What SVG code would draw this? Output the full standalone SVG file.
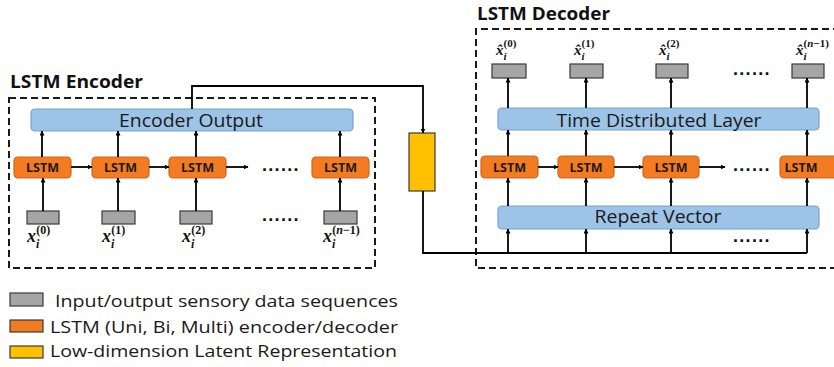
<svg xmlns="http://www.w3.org/2000/svg" width="834" height="367" viewBox="0 0 834 367">
<defs>
<marker id="ah" viewBox="0 0 10 10" refX="9" refY="5" markerWidth="5" markerHeight="5" orient="auto" markerUnits="userSpaceOnUse">
<path d="M0,0 L10,5 L0,10 z" fill="#000"/>
</marker>
<style>
.dash{fill:none;stroke:#1a1a1a;stroke-width:2;stroke-dasharray:7 4}
.title{font-family:"Open Sans","Liberation Sans",sans-serif;font-weight:bold;font-size:17px;fill:#111}
.blue{fill:#9DC3E6;stroke:#6FA3D6;stroke-width:1.2}
.btxt{font-family:"Open Sans","Liberation Sans",sans-serif;font-size:18px;fill:#1a1a1a;text-anchor:middle}
.lstm{fill:#F37B21;stroke:#D0661A;stroke-width:1.2}
.ltxt{font-family:"Open Sans","Liberation Sans",sans-serif;font-weight:bold;font-size:12.5px;fill:#1a1a1a;text-anchor:middle}
.gray{fill:#A6A6A6;stroke:#3a3a3a;stroke-width:1.2}
.yel{fill:#FFC000;stroke:#3a3a3a;stroke-width:1.2}
.ar{fill:none;stroke:#000;stroke-width:1.8;marker-end:url(#ah)}
.ln{fill:none;stroke:#000;stroke-width:1.8}
.dots{font-family:"Liberation Sans",sans-serif;font-weight:bold;font-size:18px;letter-spacing:1.3px;fill:#111}
.mx{font-family:"Liberation Serif",serif;font-weight:bold;font-style:italic;fill:#111}
.ms{font-family:"Liberation Serif",serif;font-weight:bold;fill:#111}
.leg{font-family:"Open Sans","Liberation Sans",sans-serif;font-size:17px;fill:#1a1a1a}
</style>
</defs>

<!-- Encoder -->
<g id="encoder">
<text class="title" x="10" y="88" textLength="133" lengthAdjust="spacingAndGlyphs">LSTM Encoder</text>
<rect class="dash" x="9" y="98" width="366" height="170"/>
</g>
<g id="encoder-output">
<rect class="blue" x="31" y="109" width="322" height="22" rx="4"/>
<text class="btxt" x="191" y="127" textLength="144" lengthAdjust="spacingAndGlyphs">Encoder Output</text>
</g>
<g id="enc-lstm-0"><rect class="lstm" x="14" y="157" width="57" height="21" rx="4"/><text class="ltxt" x="42.5" y="172">LSTM</text></g>
<g id="enc-lstm-1"><rect class="lstm" x="92" y="157" width="57" height="21" rx="4"/><text class="ltxt" x="120.5" y="172">LSTM</text></g>
<g id="enc-lstm-2"><rect class="lstm" x="169" y="157" width="57" height="21" rx="4"/><text class="ltxt" x="197.5" y="172">LSTM</text></g>
<g id="enc-lstm-3"><rect class="lstm" x="312" y="157" width="57" height="21" rx="4"/><text class="ltxt" x="340.5" y="172">LSTM</text></g>
<text class="dots" x="262" y="171">......</text>

<g id="enc-in-0"><rect class="gray" x="27" y="211" width="32" height="13"/>
<text x="27" y="242"><tspan class="mx" font-size="18">x</tspan><tspan class="mx" font-size="12" dy="6">i</tspan><tspan class="ms" font-size="12" dx="-3" dy="-14">(0)</tspan></text></g>
<g id="enc-in-1"><rect class="gray" x="102" y="211" width="33" height="13"/>
<text x="102" y="242"><tspan class="mx" font-size="18">x</tspan><tspan class="mx" font-size="12" dy="6">i</tspan><tspan class="ms" font-size="12" dx="-3" dy="-14">(1)</tspan></text></g>
<g id="enc-in-2"><rect class="gray" x="180" y="211" width="32" height="13"/>
<text x="182" y="242"><tspan class="mx" font-size="18">x</tspan><tspan class="mx" font-size="12" dy="6">i</tspan><tspan class="ms" font-size="12" dx="-3" dy="-14">(2)</tspan></text></g>
<g id="enc-in-3"><rect class="gray" x="324" y="211" width="33" height="13"/>
<text x="323" y="242"><tspan class="mx" font-size="18">x</tspan><tspan class="mx" font-size="12" dy="6">i</tspan><tspan class="ms" font-size="12" dx="-3" dy="-14">(</tspan><tspan class="mx" font-size="12">n</tspan><tspan class="ms" font-size="12">−1)</tspan></text></g>
<text class="dots" x="262" y="221">......</text>

<!-- Latent -->
<g id="latent"><rect class="yel" x="409" y="133" width="26" height="58"/></g>

<!-- Decoder -->
<g id="decoder">
<text class="title" x="477" y="20" textLength="133" lengthAdjust="spacingAndGlyphs">LSTM Decoder</text>
<path class="dash" d="M840,29 H476 V268 H840"/>
</g>
<g id="time-distributed">
<rect class="blue" x="498" y="108" width="321" height="22" rx="4"/>
<text class="btxt" x="659" y="127" textLength="205" lengthAdjust="spacingAndGlyphs">Time Distributed Layer</text>
</g>
<g id="repeat-vector">
<rect class="blue" x="498" y="206" width="321" height="23" rx="4"/>
<text class="btxt" x="658" y="223" textLength="127" lengthAdjust="spacingAndGlyphs">Repeat Vector</text>
</g>
<g id="dec-lstm-0"><rect class="lstm" x="481" y="156" width="57" height="22" rx="4"/><text class="ltxt" x="509.5" y="171.5">LSTM</text></g>
<g id="dec-lstm-1"><rect class="lstm" x="558" y="156" width="56" height="22" rx="4"/><text class="ltxt" x="586" y="171.5">LSTM</text></g>
<g id="dec-lstm-2"><rect class="lstm" x="643" y="156" width="56" height="22" rx="4"/><text class="ltxt" x="671" y="171.5">LSTM</text></g>
<g id="dec-lstm-3"><rect class="lstm" x="780" y="156" width="60" height="22" rx="4"/><text class="ltxt" x="801" y="171.5">LSTM</text></g>
<text class="dots" x="733" y="171">......</text>

<g id="dec-out-0"><rect class="gray" x="492" y="64" width="34" height="14"/>
<text x="496" y="55"><tspan class="mx" font-size="15">x̂</tspan><tspan class="mx" font-size="11" dy="5">i</tspan><tspan class="ms" font-size="11" dx="-3" dy="-13">(0)</tspan></text></g>
<g id="dec-out-1"><rect class="gray" x="570" y="64" width="33" height="14"/>
<text x="574" y="55"><tspan class="mx" font-size="15">x̂</tspan><tspan class="mx" font-size="11" dy="5">i</tspan><tspan class="ms" font-size="11" dx="-3" dy="-13">(1)</tspan></text></g>
<g id="dec-out-2"><rect class="gray" x="656" y="64" width="32" height="14"/>
<text x="659" y="55"><tspan class="mx" font-size="15">x̂</tspan><tspan class="mx" font-size="11" dy="5">i</tspan><tspan class="ms" font-size="11" dx="-3" dy="-13">(2)</tspan></text></g>
<g id="dec-out-3"><rect class="gray" x="792" y="64" width="32" height="14"/>
<text x="796" y="55"><tspan class="mx" font-size="15">x̂</tspan><tspan class="mx" font-size="11" dy="5">i</tspan><tspan class="ms" font-size="11" dx="-3" dy="-13">(</tspan><tspan class="mx" font-size="11">n</tspan><tspan class="ms" font-size="11">−1)</tspan></text></g>
<text class="dots" x="733" y="75">......</text>
<text class="dots" x="733" y="242">......</text>

<!-- Connectors -->
<g id="connectors">
<path class="ar" d="M43,211 V178"/>
<path class="ar" d="M118,211 V178"/>
<path class="ar" d="M196,211 V178"/>
<path class="ar" d="M340,211 V178"/>
<path class="ar" d="M42,157 V131"/>
<path class="ar" d="M118,157 V131"/>
<path class="ar" d="M196,157 V131"/>
<path class="ar" d="M340,157 V131"/>
<path class="ar" d="M71,167 H92"/>
<path class="ar" d="M149,167 H169"/>
<path class="ar" d="M226,167 H248"/>
<path class="ar" d="M192,109 V86 H423 V133"/>
<path class="ln" d="M423,191 V253 H807"/>
<path class="ar" d="M508,253 V229"/>
<path class="ar" d="M586,253 V229"/>
<path class="ar" d="M671,253 V229"/>
<path class="ar" d="M807,253 V229"/>
<path class="ar" d="M508,206 V178"/>
<path class="ar" d="M586,206 V178"/>
<path class="ar" d="M671,206 V178"/>
<path class="ar" d="M807,206 V178"/>
<path class="ar" d="M508,156 V130"/>
<path class="ar" d="M586,156 V130"/>
<path class="ar" d="M671,156 V130"/>
<path class="ar" d="M807,156 V130"/>
<path class="ar" d="M508,108 V78"/>
<path class="ar" d="M586,108 V78"/>
<path class="ar" d="M671,108 V78"/>
<path class="ar" d="M807,108 V78"/>
<path class="ar" d="M538,167 H558"/>
<path class="ar" d="M614,167 H643"/>
<path class="ar" d="M699,167 H725"/>
</g>

<!-- Legend -->
<g id="legend">
<rect class="gray" x="10" y="293" width="33" height="13"/>
<text class="leg" x="55" y="307" textLength="343" lengthAdjust="spacingAndGlyphs">Input/output sensory data sequences</text>
<rect class="lstm" x="10" y="320" width="33" height="12" style="stroke:#3a3a3a"/>
<text class="leg" x="50" y="333" textLength="348" lengthAdjust="spacingAndGlyphs">LSTM (Uni, Bi, Multi) encoder/decoder</text>
<rect class="yel" x="10" y="346" width="33" height="12"/>
<text class="leg" x="50" y="357" textLength="347" lengthAdjust="spacingAndGlyphs">Low-dimension Latent Representation</text>
</g>
</svg>
